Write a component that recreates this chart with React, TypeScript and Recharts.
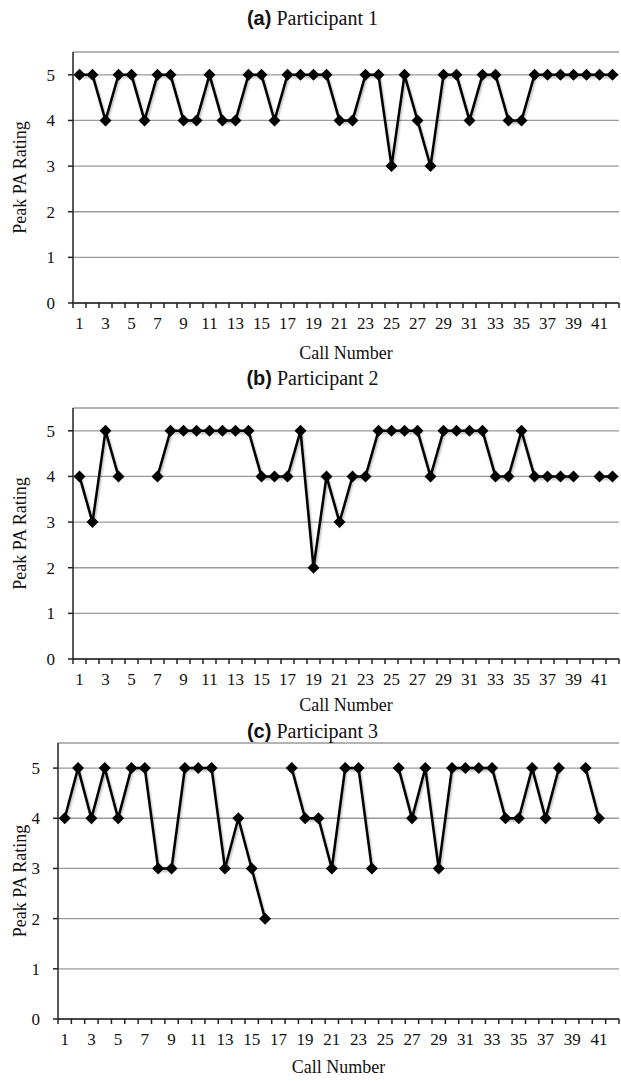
import { LineChart, Line, XAxis, YAxis, CartesianGrid, Label } from 'recharts'

const CALLS = [1, 2, 3, 4, 5, 6, 7, 8, 9, 10, 11, 12, 13, 14, 15, 16, 17, 18, 19, 20, 21, 22, 23, 24, 25, 26, 27, 28, 29, 30, 31, 32, 33, 34, 35, 36, 37, 38, 39, 40, 41, 42]

const PARTICIPANT_1 = [5, 5, 4, 5, 5, 4, 5, 5, 4, 4, 5, 4, 4, 5, 5, 4, 5, 5, 5, 5, 4, 4, 5, 5, 3, 5, 4, 3, 5, 5, 4, 5, 5, 4, 4, 5, 5, 5, 5, 5, 5, 5]
const PARTICIPANT_2 = [4, 3, 5, 4, null, null, 4, 5, 5, 5, 5, 5, 5, 5, 4, 4, 4, 5, 2, 4, 3, 4, 4, 5, 5, 5, 5, 4, 5, 5, 5, 5, 4, 4, 5, 4, 4, 4, 4, null, 4, 4]
const PARTICIPANT_3 = [4, 5, 4, 5, 4, 5, 5, 3, 3, 5, 5, 5, 3, 4, 3, 2, null, 5, 4, 4, 3, 5, 5, 3, null, 5, 4, 5, 3, 5, 5, 5, 5, 4, 4, 5, 4, 5, null, 5, 4, null]

const Y_TICKS = [0, 1, 2, 3, 4, 5]
const X_LABELS = [1, 3, 5, 7, 9, 11, 13, 15, 17, 19, 21, 23, 25, 27, 29, 31, 33, 35, 37, 39, 41]

const SERIF = '"Liberation Serif", "Times New Roman", serif'
const SANS = '"Liberation Sans", Arial, sans-serif'

// tick marks sit between calls, labels are shifted back to the call centre
const BOUNDS = [0, ...CALLS].map((c) => c + 0.5)

function Diamond(props: any) {
  const { cx, cy, index } = props
  if (cx == null || cy == null) return <g key={index} />
  const r = 6
  return (
    <polygon
      key={index}
      points={`${cx},${cy - r} ${cx + r},${cy} ${cx},${cy + r} ${cx - r},${cy}`}
      fill="#000"
    />
  )
}

interface PanelProps {
  letter: string
  title: string
  values: (number | null)[]
  top: number
  titleTop: number
  height: number
  axisWidth: number
  labelOffset: number
}

function Panel({ letter, title, values, top, titleTop, height, axisWidth, labelOffset }: PanelProps) {
  const data = CALLS.map((c, i) => ({ call: c, rating: values[i] }))
  const half = (621 - 2 - axisWidth) / CALLS.length / 2
  const shadowId = `shadow-${letter}`
  return (
    <>
      <div
        style={{
          position: 'absolute',
          top: titleTop,
          left: 2,
          width: 621,
          textAlign: 'center',
          fontSize: 20,
          lineHeight: '24px',
          fontFamily: SERIF,
          color: '#111',
          zIndex: 1,
        }}
      >
        <span style={{ fontFamily: SANS, fontWeight: 'bold' }}>({letter})</span> {title}
      </div>
      <div style={{ position: 'absolute', top, left: 0 }}>
        <LineChart width={621} height={height} data={data} margin={{ top: 12, right: 2, bottom: 2, left: 0 }}>
          <defs>
            <filter id={shadowId} x="-10%" y="-10%" width="120%" height="130%">
              <feDropShadow dx="1" dy="2" stdDeviation="1.3" floodColor="#000" floodOpacity="0.3" />
            </filter>
          </defs>
          <CartesianGrid vertical={false} stroke="#9a9a9a" strokeWidth={1.3} />
          <XAxis
            dataKey="call"
            type="number"
            domain={[0.5, 42.5]}
            ticks={BOUNDS}
            interval={0}
            allowDataOverflow
            height={60}
            tickSize={5}
            tickMargin={9}
            stroke="#222"
            strokeWidth={1.5}
            tick={{ fontSize: 17, fontFamily: SERIF, fill: '#111', dx: half }}
            tickFormatter={(v: number) => (X_LABELS.includes(v + 0.5) ? String(v + 0.5) : '')}
          >
            <Label
              value="Call Number"
              position="insideBottom"
              offset={labelOffset}
              style={{ fontSize: 18, fontFamily: SERIF, fill: '#111' }}
            />
          </XAxis>
          <YAxis
            type="number"
            domain={[0, 5.5]}
            ticks={Y_TICKS}
            interval={0}
            width={axisWidth}
            tickSize={5}
            tickMargin={13}
            stroke="#222"
            strokeWidth={1.5}
            tick={{ fontSize: 17, fontFamily: SERIF, fill: '#111' }}
          >
            <Label
              value="Peak PA Rating"
              position="center"
              angle={-90}
              dx={20 - axisWidth / 2}
              style={{ fontSize: 18, fontFamily: SERIF, fill: '#111', textAnchor: 'middle' }}
            />
          </YAxis>
          <Line
            type="linear"
            dataKey="rating"
            stroke="#000"
            strokeWidth={2.5}
            dot={Diamond}
            activeDot={false}
            connectNulls={false}
            isAnimationActive={false}
            filter={`url(#${shadowId})`}
          />
        </LineChart>
      </div>
    </>
  )
}

export default function App() {
  return (
    <div style={{ position: 'absolute', top: 0, left: 0, width: 621, height: 1081, background: '#fff', overflow: 'hidden' }}>
      <Panel letter="a" title="Participant 1" values={PARTICIPANT_1} top={40} titleTop={6} height={325} axisWidth={73} labelOffset={4} />
      <Panel letter="b" title="Participant 2" values={PARTICIPANT_2} top={396} titleTop={366} height={325} axisWidth={73} labelOffset={8} />
      <Panel letter="c" title="Participant 3" values={PARTICIPANT_3} top={731} titleTop={719} height={350} axisWidth={58} labelOffset={6} />
    </div>
  )
}
